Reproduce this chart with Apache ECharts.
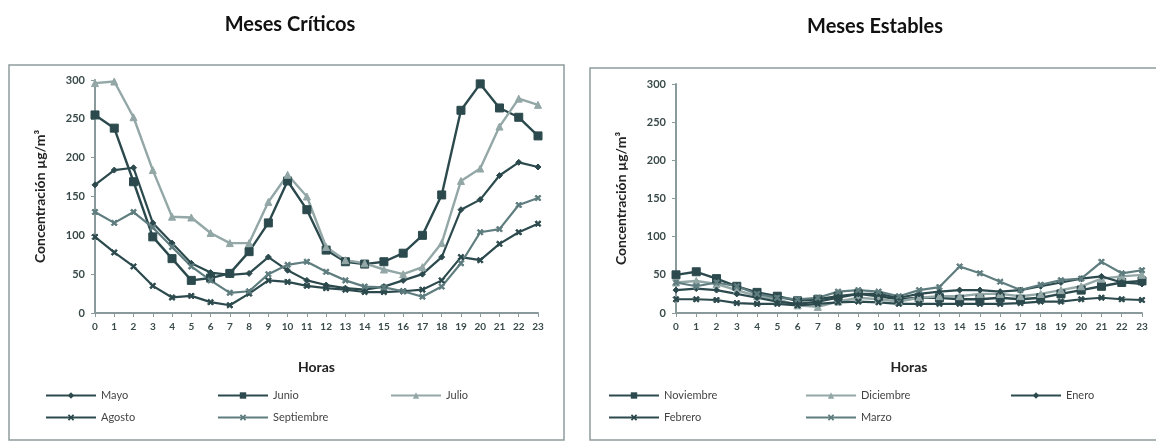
<!DOCTYPE html>
<html>
<head>
<meta charset="utf-8">
<script src="https://cdn.jsdelivr.net/npm/echarts@6/dist/echarts.min.js"></script>
<style>html,body{margin:0;padding:0;background:#fff;}#c{width:1156px;height:448px;}</style>
</head>
<body>
<div id="c"></div>
<script>
const hours = ['0','1','2','3','4','5','6','7','8','9','10','11','12','13','14','15','16','17','18','19','20','21','22','23'];
const yTicks = [0, 50, 100, 150, 200, 250, 300];

// Meses Críticos
const mayo       = [165,184,187,116,90,64,52,49,51,72,55,42,36,32,30,34,42,50,72,133,146,177,194,188];
const junio      = [255,238,169,98,70,42,45,51,79,116,170,133,81,66,63,66,77,100,152,261,295,264,252,228];
const julio      = [296,298,252,184,124,123,103,90,90,143,178,150,85,68,64,56,50,59,90,170,186,240,276,268];
const agosto     = [98,78,60,35,20,22,14,10,25,42,40,35,32,30,27,27,28,30,42,72,68,89,104,115];
const septiembre = [130,116,130,110,85,60,42,26,28,50,62,66,53,42,34,33,28,21,34,64,104,108,139,148];

// Meses Estables
const noviembre  = [50,54,45,35,27,22,16,18,22,25,22,18,20,20,18,18,20,18,20,25,30,35,40,42];
const diciembre  = [40,42,38,30,22,18,10,8,15,20,18,15,20,22,22,25,25,22,25,30,35,45,48,50];
const enero      = [30,32,30,25,20,15,12,15,20,25,25,20,25,28,30,30,28,30,35,40,45,48,40,38];
const febrero    = [18,18,17,13,12,12,10,12,14,15,14,12,12,12,12,12,12,13,15,15,18,20,18,17];
const marzo      = [40,35,40,35,25,20,18,20,28,30,28,22,30,34,61,52,41,30,37,43,45,67,52,56];

const DARK = '#2c4a4d';
const MID = '#5f7d7f';
const LIGHT = '#93a7a7';
const CROSS = 'path://M2,0L5,3L8,0L10,2L7,5L10,8L8,10L5,7L2,10L0,8L3,5L0,2Z';
const FONT = 'Lato, "Open Sans", sans-serif';

function mkX(gi){
  return {
    type:'category', gridIndex:gi, data:hours, boundaryGap:false,
    axisLine:{lineStyle:{color:'#8a9999', width:2}},
    axisTick:{show:true, length:4, lineStyle:{color:'#8a9999'}},
    axisLabel:{color:'#3a4a4a', fontSize:10, fontWeight:'bold', fontFamily:FONT, margin:9, interval:0},
    name:'Horas', nameLocation:'middle', nameGap:47,
    nameTextStyle:{color:'#222', fontSize:14, fontWeight:'bold', fontFamily:FONT}
  };
}
function mkY(gi){
  return {
    type:'value', gridIndex:gi, min:0, max:300, interval:50,
    splitLine:{show:false},
    axisLine:{show:true, lineStyle:{color:'#8a9999', width:2}},
    axisTick:{show:true, length:4, lineStyle:{color:'#8a9999'}},
    axisLabel:{color:'#3a4a4a', fontSize:11, fontWeight:'bold', fontFamily:FONT, margin:10},
    name:'Concentración µg/m³', nameLocation:'middle', nameRotate:90, nameGap:48,
    nameTextStyle:{color:'#222', fontSize:14, fontWeight:'bold', fontFamily:FONT}
  };
}
function mkS(name, data, gi, color, symbol, size, width){
  return {
    name:name, type:'line', xAxisIndex:gi, yAxisIndex:gi, data:data,
    symbol:symbol, symbolSize:size, showSymbol:true,
    lineStyle:{color:color, width:width},
    itemStyle:{color:color, borderColor:color},
    emphasis:{disabled:true}, animation:false
  };
}
function mkL(name, left, top){
  return {
    data:[name], left:left, top:top, itemWidth:50, itemHeight:8, itemGap:4,
    textStyle:{color:'#444', fontSize:11, fontFamily:FONT}, selectedMode:false
  };
}

const chart = echarts.init(document.getElementById('c'), null, {renderer:'canvas'});
chart.setOption({
  backgroundColor:'#ffffff',
  animation:false,
  title:[
    {text:'Meses Críticos', left:285, top:10, textAlign:'center', textStyle:{color:'#111', fontSize:20, fontWeight:'bold', fontFamily:FONT}},
    {text:'Meses Estables', left:870, top:12, textAlign:'center', textStyle:{color:'#111', fontSize:20, fontWeight:'bold', fontFamily:FONT}}
  ],
  graphic:[
    {type:'rect', shape:{x:9, y:65, width:555, height:375}, style:{fill:'none', stroke:'#8f9c9c', lineWidth:1.5}, silent:true},
    {type:'rect', shape:{x:590, y:68, width:575, height:372}, style:{fill:'none', stroke:'#8f9c9c', lineWidth:1.5}, silent:true}
  ],
  grid:[
    {left:95, right:618, top:80, bottom:135},
    {left:676, right:14, top:84, bottom:135}
  ],
  xAxis:[mkX(0), mkX(1)],
  yAxis:[mkY(0), mkY(1)],
  legend:[
    mkL('Mayo', 40, 385), mkL('Junio', 212, 385), mkL('Julio', 385, 385),
    mkL('Agosto', 40, 407), mkL('Septiembre', 212, 407),
    mkL('Noviembre', 603, 385), mkL('Diciembre', 800, 385), mkL('Enero', 1005, 385),
    mkL('Febrero', 603, 407), mkL('Marzo', 800, 407)
  ],
  series:[
    mkS('Mayo', mayo, 0, DARK, 'diamond', 6, 2.2),
    mkS('Junio', junio, 0, DARK, 'rect', 8, 2.4),
    mkS('Julio', julio, 0, LIGHT, 'triangle', 7, 2.4),
    mkS('Agosto', agosto, 0, DARK, CROSS, 6, 2.2),
    mkS('Septiembre', septiembre, 0, MID, CROSS, 6, 2.2),
    mkS('Noviembre', noviembre, 1, DARK, 'rect', 8, 2.4),
    mkS('Diciembre', diciembre, 1, LIGHT, 'triangle', 7, 2.4),
    mkS('Enero', enero, 1, DARK, 'diamond', 6, 2.2),
    mkS('Febrero', febrero, 1, DARK, CROSS, 6, 2.2),
    mkS('Marzo', marzo, 1, MID, CROSS, 6, 2.2)
  ]
});
</script>
</body>
</html>
